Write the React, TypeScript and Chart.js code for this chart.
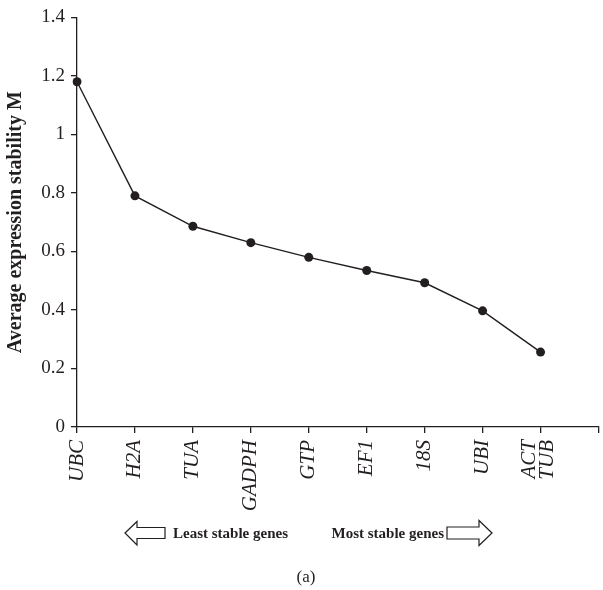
import React, { useEffect, useRef } from "react";
import { Chart, registerables } from "chart.js";

Chart.register(...registerables);

const categories: (string | string[])[] = ["UBC", "H2A", "TUA", "GADPH", "GTP", "EF1", "18S", "UBI", ["ACT", "TUB"], ""];
const stabilityM: number[] = [1.18, 0.79, 0.686, 0.63, 0.58, 0.535, 0.493, 0.397, 0.256];
const yTickValues: number[] = [0, 0.2, 0.4, 0.6, 0.8, 1, 1.2, 1.4];
const yTitle = "Average expression stability M";
const leastLabel = "Least stable genes";
const mostLabel = "Most stable genes";
const panelLabel = "(a)";

const INK = "#231f20";
const FONT = "'Liberation Serif', 'Times New Roman', serif";

// Centre multi-line rotated tick labels around their tick
const centreMultiLinePlugin = {
  id: "centreMultiLine",
  beforeDraw(chart: any) {
    const xs = chart.scales.x;
    if (!xs || !xs.getLabelItems) return;
    const items = xs.getLabelItems(chart.chartArea);
    items.forEach((it: any) => {
      if (Array.isArray(it.label) && it.label.length > 1 && !it._centred) {
        it.options.translation[0] -= 11;
        it._centred = true;
      }
    });
  },
};

const annotationPlugin = {
  id: "bottomNotes",
  afterDraw(chart: any) {
    const ctx = chart.ctx as CanvasRenderingContext2D;
    ctx.save();
    ctx.strokeStyle = INK;
    ctx.lineWidth = 1.2;
    ctx.lineJoin = "miter";
    // left hollow arrow
    ctx.beginPath();
    ctx.moveTo(125, 533);
    ctx.lineTo(137, 521.5);
    ctx.lineTo(137, 527.5);
    ctx.lineTo(165, 527.5);
    ctx.lineTo(165, 538.5);
    ctx.lineTo(137, 538.5);
    ctx.lineTo(137, 545);
    ctx.closePath();
    ctx.stroke();
    // right hollow arrow
    ctx.beginPath();
    ctx.moveTo(492, 533);
    ctx.lineTo(479, 520.5);
    ctx.lineTo(479, 527);
    ctx.lineTo(447, 527);
    ctx.lineTo(447, 539);
    ctx.lineTo(479, 539);
    ctx.lineTo(479, 545.5);
    ctx.closePath();
    ctx.stroke();

    ctx.fillStyle = INK;
    ctx.font = `bold 15px ${FONT}`;
    ctx.textBaseline = "alphabetic";
    ctx.textAlign = "left";
    ctx.fillText(leastLabel, 173, 538);
    ctx.textAlign = "right";
    ctx.fillText(mostLabel, 444, 538);

    ctx.font = `17px ${FONT}`;
    ctx.textAlign = "center";
    ctx.textBaseline = "middle";
    ctx.fillText(panelLabel, 306, 578);
    ctx.restore();
  },
};

export default function App() {
  const ref = useRef<HTMLCanvasElement | null>(null);

  useEffect(() => {
    if (!ref.current) return;
    const chart = new Chart(ref.current, {
      type: "line",
      data: {
        labels: categories,
        datasets: [
          {
            data: stabilityM,
            borderColor: INK,
            borderWidth: 1.4,
            backgroundColor: INK,
            pointBackgroundColor: INK,
            pointBorderColor: INK,
            pointRadius: 4.5,
            pointBorderWidth: 0,
            tension: 0,
            fill: false,
          },
        ],
      },
      options: {
        responsive: false,
        animation: false,
        devicePixelRatio: 1,
        layout: { padding: { top: 15, left: 0, right: -3, bottom: 0 } },
        plugins: {
          legend: { display: false },
          tooltip: { enabled: false },
          title: { display: false },
        },
        scales: {
          x: {
            type: "category",
            offset: false,
            border: { display: true, color: INK, width: 1.3 },
            grid: {
              display: true,
              drawOnChartArea: false,
              drawTicks: true,
              tickLength: 6,
              color: INK,
              lineWidth: 1.3,
            },
            ticks: {
              autoSkip: false,
              maxRotation: 90,
              minRotation: 90,
              padding: 7,
              color: INK,
              font: { family: FONT, size: 21, style: "italic", lineHeight: 0.85 },
            },
            afterFit(scale: any) {
              scale.height = 590 - 427;
              scale.paddingLeft = 0;
              scale.paddingRight = 0;
            },
          },
          y: {
            type: "linear",
            min: 0,
            max: 1.4,
            border: { display: true, color: INK, width: 1.3 },
            grid: {
              display: true,
              drawOnChartArea: false,
              drawTicks: true,
              tickLength: 6,
              color: INK,
              lineWidth: 1.3,
            },
            afterBuildTicks(scale: any) {
              scale.ticks = yTickValues.map((v) => ({ value: v }));
            },
            ticks: {
              padding: 6,
              color: INK,
              font: { family: FONT, size: 19 },
              callback: (v: any) => String(+Number(v).toFixed(1)),
            },
            title: {
              display: true,
              text: yTitle,
              color: INK,
              font: { family: FONT, size: 20, weight: "bold" },
              padding: { top: 4, bottom: 0 },
            },
            afterFit(scale: any) {
              scale.width = 77;
            },
          },
        },
      },
      plugins: [centreMultiLinePlugin, annotationPlugin],
    });
    return () => chart.destroy();
  }, []);

  return (
    <div style={{ position: "fixed", left: 0, top: 0, width: 603, height: 590, background: "#fff" }}>
      <canvas ref={ref} width={603} height={590} style={{ display: "block", width: 603, height: 590 }} />
    </div>
  );
}
